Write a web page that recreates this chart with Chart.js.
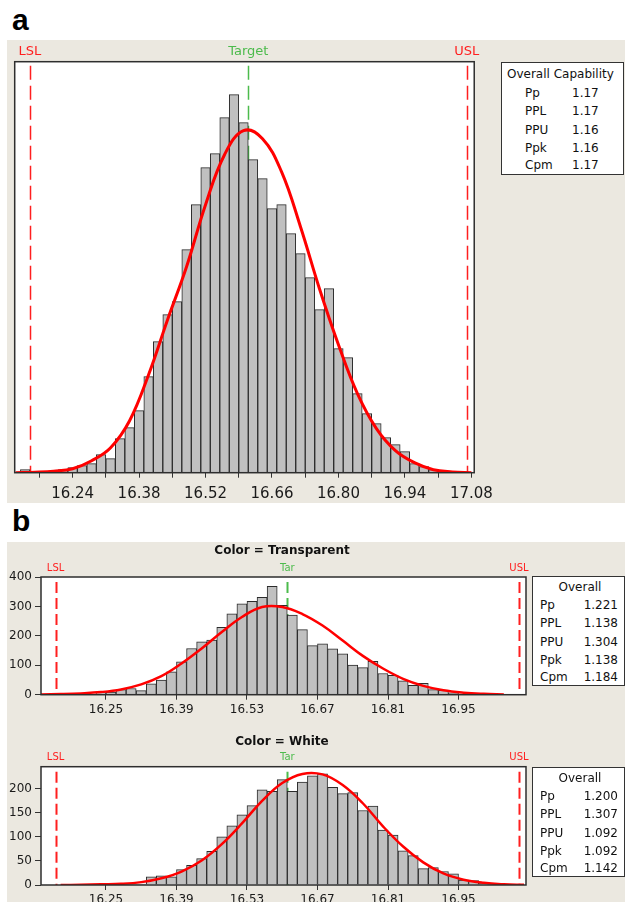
<!DOCTYPE html>
<html>
<head>
<meta charset="utf-8">
<title>Process capability histograms</title>
<script src="https://cdn.jsdelivr.net/npm/chart.js@4.4.1/dist/chart.umd.min.js"></script>
<style>
  body { margin: 0; width: 625px; height: 902px; background: #fff; position: relative; overflow: hidden; font-family: "DejaVu Sans", sans-serif; }
  .panel-bg { position: absolute; background: #ebe8e0; }
  .letter { position: absolute; font: bold 30px "Liberation Sans", Arial, sans-serif; line-height: 30px; color: #000; }
  canvas { position: absolute; left: 0; }
  .box { position: absolute; background: #fff; border: 1px solid #333; box-sizing: border-box; }
  .box span { position: absolute; font-size: 12px; line-height: 14px; color: #111; white-space: nowrap; }
  .title { position: absolute; font: bold 12px "DejaVu Sans", sans-serif; line-height: 14px; color: #111; transform: translateX(-50%); white-space: nowrap; }
</style>
</head>
<body>
<div class="panel-bg" style="left:7px; top:40px; width:618px; height:463px;"></div>
<div class="panel-bg" style="left:7px; top:542px; width:618px; height:360px;"></div>
<div class="letter" style="left:12px; top:5px;">a</div>
<div class="letter" style="left:12px; top:506px;">b</div>

<canvas id="chart-a" width="500" height="465" style="top:40px;"></canvas>
<canvas id="chart-b1" width="535" height="180" style="top:540px;"></canvas>
<canvas id="chart-b2" width="535" height="182" style="top:720px;"></canvas>

<div class="title" style="left:282px; top:543px;">Color = Transparent</div>
<div class="title" style="left:282px; top:734px;">Color = White</div>

<div id="box-a" class="box" style="left:501px; top:62px; width:123px; height:113px;"></div>
<div id="box-b1" class="box" style="left:532px; top:576px; width:93px; height:110px;"></div>
<div id="box-b2" class="box" style="left:532px; top:767px; width:93px; height:110px;"></div>

<script>
// spec limits (shared by all three plots)
const LSL = 16.15;
const TARGET = 16.61;
const USL = 17.07;

// panel a - overall histogram (bin centres, bar heights)
const binsA = [16.14, 16.16, 16.18, 16.20, 16.22, 16.24, 16.26, 16.28, 16.30, 16.32, 16.34, 16.36, 16.38, 16.40, 16.42,
    16.44, 16.46, 16.48, 16.50, 16.52, 16.54, 16.56, 16.58, 16.60, 16.62, 16.64, 16.66, 16.68, 16.70, 16.72,
    16.74, 16.76, 16.78, 16.80, 16.82, 16.84, 16.86, 16.88, 16.90, 16.92, 16.94, 16.96, 16.98, 17.00, 17.02];
const freqA = [3, 0.5, 1, 1.5, 3, 5, 7, 9, 18, 14, 34, 45, 62, 96, 131,
    158, 171, 223, 268, 305, 319, 355, 378, 350, 313, 294, 264, 268, 239, 219,
    195, 163, 184, 124, 115, 79, 59, 49, 35, 28, 21, 9, 6, 3, 1.5];
// fitted normal curve
const curveAx = [16.12, 16.16, 16.20, 16.24, 16.28, 16.32, 16.36, 16.40, 16.44, 16.48, 16.52, 16.56, 16.60,
    16.64, 16.68, 16.72, 16.76, 16.80, 16.84, 16.88, 16.92, 16.96, 17.00, 17.04, 17.08];
const curveAy = [0, 0.5, 1.5, 4, 12, 25, 52, 98, 153, 206, 268, 318, 342,
    334, 301, 246, 184, 128, 79, 44, 22, 10, 3, 0.8, 0];
const ticksA = [16.17, 16.24, 16.31, 16.38, 16.45, 16.52, 16.59, 16.66, 16.73, 16.80, 16.87, 16.94, 17.01, 17.08];
const labelsA = ['16.24', '16.38', '16.52', '16.66', '16.80', '16.94', '17.08'];

// panel b - Color = Transparent
const binsB1 = [16.24, 16.26, 16.28, 16.30, 16.32, 16.34, 16.36, 16.38, 16.40, 16.42, 16.44, 16.46, 16.48,
    16.50, 16.52, 16.54, 16.56, 16.58, 16.60, 16.62, 16.64, 16.66, 16.68, 16.70, 16.72, 16.74, 16.76,
    16.78, 16.80, 16.82, 16.84, 16.86, 16.88, 16.90, 16.92, 16.94, 16.96, 16.98];
const freqB1 = [7, 9, 17, 21, 14, 37, 50, 78, 112, 157, 180, 186, 229,
    275, 309, 317, 331, 368, 304, 271, 221, 167, 173, 156, 139, 101, 92,
    113, 72, 66, 47, 32, 39, 17, 15, 6, 2, 1];
const curveB1x = [16.12, 16.16, 16.20, 16.24, 16.28, 16.32, 16.36, 16.40, 16.44, 16.48, 16.52, 16.56,
    16.60, 16.64, 16.68, 16.72, 16.76, 16.80, 16.84, 16.88, 16.92, 16.96, 17.00, 17.04];
const curveB1y = [0.5, 2, 4.5, 9, 18, 35, 63, 106, 157, 213, 264, 298,
    298, 274, 235, 184, 132, 89, 54, 30, 15, 7, 3, 1];

// panel b - Color = White
const binsB2 = [16.28, 16.30, 16.32, 16.34, 16.36, 16.38, 16.40, 16.42, 16.44, 16.46, 16.48, 16.50, 16.52,
    16.54, 16.56, 16.58, 16.60, 16.62, 16.64, 16.66, 16.68, 16.70, 16.72, 16.74, 16.76, 16.78,
    16.80, 16.82, 16.84, 16.86, 16.88, 16.90, 16.92, 16.94, 16.96, 16.98, 17.00, 17.02];
const freqB2 = [1, 2, 2, 17, 19, 17, 32, 41, 55, 70, 100, 123, 146,
    165, 198, 195, 219, 195, 214, 227, 231, 203, 190, 192, 155, 164,
    114, 104, 71, 61, 34, 36, 28, 23, 10, 9, 3.5, 2];
const curveB2x = [16.16, 16.20, 16.24, 16.28, 16.32, 16.36, 16.40, 16.44, 16.48, 16.52, 16.56, 16.60,
    16.64, 16.68, 16.72, 16.76, 16.80, 16.84, 16.88, 16.92, 16.96, 17.00, 17.04, 17.08];
const curveB2y = [0, 0.5, 1.5, 2.5, 6, 14, 28, 51, 85, 128, 175, 212,
    231, 230, 208, 170, 122, 80, 47, 24, 11, 4.5, 1.5, 0.3];

const ticksB = [16.25, 16.39, 16.53, 16.67, 16.81, 16.95];
const yTicksB1 = [0, 100, 200, 300, 400];
const yTicksB2 = [0, 50, 100, 150, 200];

// capability tables
const statNames = ['Pp', 'PPL', 'PPU', 'Ppk', 'Cpm'];
const statsA = ['1.17', '1.17', '1.16', '1.16', '1.17'];
const statsB1 = ['1.221', '1.138', '1.304', '1.138', '1.184'];
const statsB2 = ['1.200', '1.307', '1.092', '1.092', '1.142'];

const RED = '#ff1f1f';
const GREEN = '#4cbb4c';

// white plot area, dashed spec lines, frame and LSL/Target/USL captions
const specPlugin = {
    id: 'spec',
    beforeDraw(chart) {
        const { ctx, chartArea: a } = chart;
        ctx.save();
        ctx.fillStyle = '#fff';
        ctx.fillRect(a.left, a.top, a.width, a.height);
        ctx.restore();
    },
    beforeDatasetsDraw(chart, args, opts) {
        const { ctx, chartArea: a, scales: { x } } = chart;
        ctx.save();
        ctx.lineWidth = opts.lineWidth;
        ctx.setLineDash(opts.dash);
        opts.lines.forEach(line => {
            const px = Math.round(x.getPixelForValue(line.value)) + 0.5;
            ctx.strokeStyle = line.color;
            ctx.beginPath();
            ctx.moveTo(px, a.top + opts.gap);
            ctx.lineTo(px, a.bottom);
            ctx.stroke();
        });
        ctx.restore();
    },
    afterDatasetsDraw(chart, args, opts) {
        const { ctx, chartArea: a, scales: { x } } = chart;
        ctx.save();
        ctx.strokeStyle = '#2e2e2e';
        ctx.lineWidth = 1.5;
        ctx.strokeRect(a.left, a.top, a.width, a.height);
        ctx.font = opts.font;
        ctx.textAlign = 'center';
        ctx.textBaseline = 'middle';
        opts.lines.forEach(line => {
            ctx.fillStyle = line.color;
            ctx.fillText(line.label, x.getPixelForValue(line.value), a.top - opts.labelOffset);
        });
        ctx.restore();
    }
};

function makeHistogram(id, cfg) {
    const tickFont = { family: 'DejaVu Sans', size: cfg.tickSize };
    const yAxis = cfg.yTicks ? {
        min: 0,
        max: cfg.yMax,
        afterBuildTicks: s => { s.ticks = cfg.yTicks.map(v => ({ value: v })); },
        afterFit: s => { s.width = cfg.yWidth; },
        ticks: { font: tickFont, color: '#1a1a1a', padding: 3 },
        grid: { drawOnChartArea: false, tickLength: 6, color: '#333' },
        border: { display: false }
    } : { display: false, min: 0, max: cfg.yMax };

    return new Chart(document.getElementById(id), {
        type: 'bar',
        data: {
            datasets: [{
                type: 'line',
                data: cfg.curveX.map((v, i) => ({ x: v, y: cfg.curveY[i] })),
                borderColor: '#ff0000',
                borderWidth: cfg.curveWidth,
                pointRadius: 0,
                tension: 0.4,
                order: 0
            }, {
                data: cfg.bins.map((v, i) => ({ x: v, y: cfg.freq[i] })),
                backgroundColor: '#c0c0c0',
                borderColor: '#2b2b2b',
                borderWidth: 1,
                barPercentage: 1,
                categoryPercentage: 1,
                order: 1
            }]
        },
        options: {
            responsive: false,
            animation: false,
            layout: { padding: cfg.padding },
            scales: {
                x: {
                    type: 'linear',
                    offset: false,
                    min: cfg.xMin,
                    max: cfg.xMax,
                    afterBuildTicks: s => { s.ticks = cfg.xTicks.map(v => ({ value: v })); },
                    afterFit: s => { s.height = cfg.xHeight; },
                    ticks: {
                        font: tickFont,
                        color: '#1a1a1a',
                        padding: cfg.labelPad,
                        maxRotation: 0,
                        autoSkip: false,
                        callback: v => {
                            const txt = v.toFixed(2);
                            return cfg.xLabels.includes(txt) ? txt : '';
                        }
                    },
                    grid: { offset: false, drawOnChartArea: false, tickLength: 5, color: '#333' },
                    border: { display: false }
                },
                y: yAxis
            },
            plugins: {
                legend: { display: false },
                tooltip: { enabled: false },
                spec: cfg.spec
            }
        },
        plugins: [specPlugin]
    });
}

function specLines(targetLabel) {
    return [
        { value: LSL, label: 'LSL', color: RED },
        { value: TARGET, label: targetLabel, color: GREEN },
        { value: USL, label: 'USL', color: RED }
    ];
}

makeHistogram('chart-a', {
    bins: binsA, freq: freqA, curveX: curveAx, curveY: curveAy,
    xMin: 16.118, xMax: 17.086, yMax: 411,
    xTicks: ticksA, xLabels: labelsA,
    tickSize: 15, labelPad: 7, curveWidth: 3,
    padding: { left: 14.7, right: 24.3, top: 21.7, bottom: 0 }, xHeight: 32.3,
    spec: { lines: specLines('Target'), font: '13px "DejaVu Sans"', labelOffset: 10, dash: [14, 6], lineWidth: 1.5, gap: 4 }
});

makeHistogram('chart-b1', {
    bins: binsB1, freq: freqB1, curveX: curveB1x, curveY: curveB1y,
    xMin: 16.121, xMax: 17.084, yMax: 400, yTicks: yTicksB1, yWidth: 41,
    xTicks: ticksB, xLabels: ticksB.map(v => v.toFixed(2)),
    tickSize: 12, labelPad: 3, curveWidth: 2.5,
    padding: { left: 0, right: 9, top: 37, bottom: 0 }, xHeight: 25.3,
    spec: { lines: specLines('Tar'), font: '10px "DejaVu Sans"', labelOffset: 9, dash: [11, 5], lineWidth: 2, gap: 5 }
});

makeHistogram('chart-b2', {
    bins: binsB2, freq: freqB2, curveX: curveB2x, curveY: curveB2y,
    xMin: 16.121, xMax: 17.084, yMax: 246, yTicks: yTicksB2, yWidth: 41,
    xTicks: ticksB, xLabels: ticksB.map(v => v.toFixed(2)),
    tickSize: 12, labelPad: 3, curveWidth: 2.5,
    padding: { left: 0, right: 9, top: 46.7, bottom: 0 }, xHeight: 17,
    spec: { lines: specLines('Tar'), font: '10px "DejaVu Sans"', labelOffset: 9, dash: [11, 5], lineWidth: 2, gap: 5 }
});

// capability tables
function addText(box, text, left, top, align) {
    const span = document.createElement('span');
    span.textContent = text;
    span.style.top = top + 'px';
    if (align === 'right') span.style.right = left + 'px';
    else if (align === 'center') { span.style.left = left + 'px'; span.style.transform = 'translateX(-50%)'; }
    else span.style.left = left + 'px';
    box.appendChild(span);
}

const boxA = document.getElementById('box-a');
addText(boxA, 'Overall Capability', 5, 4);
statNames.forEach((name, i) => {
    const top = [22.7, 41, 59.7, 78, 95][i];
    addText(boxA, name, 23, top);
    addText(boxA, statsA[i], 70, top);
});

[['box-b1', statsB1], ['box-b2', statsB2]].forEach(([id, stats]) => {
    const box = document.getElementById(id);
    addText(box, 'Overall', 47, 3, 'center');
    statNames.forEach((name, i) => {
        const top = [21, 39, 57.5, 75.5, 93][i];
        addText(box, name, 7, top);
        addText(box, stats[i], 6, top, 'right');
    });
});
</script>
</body>
</html>
